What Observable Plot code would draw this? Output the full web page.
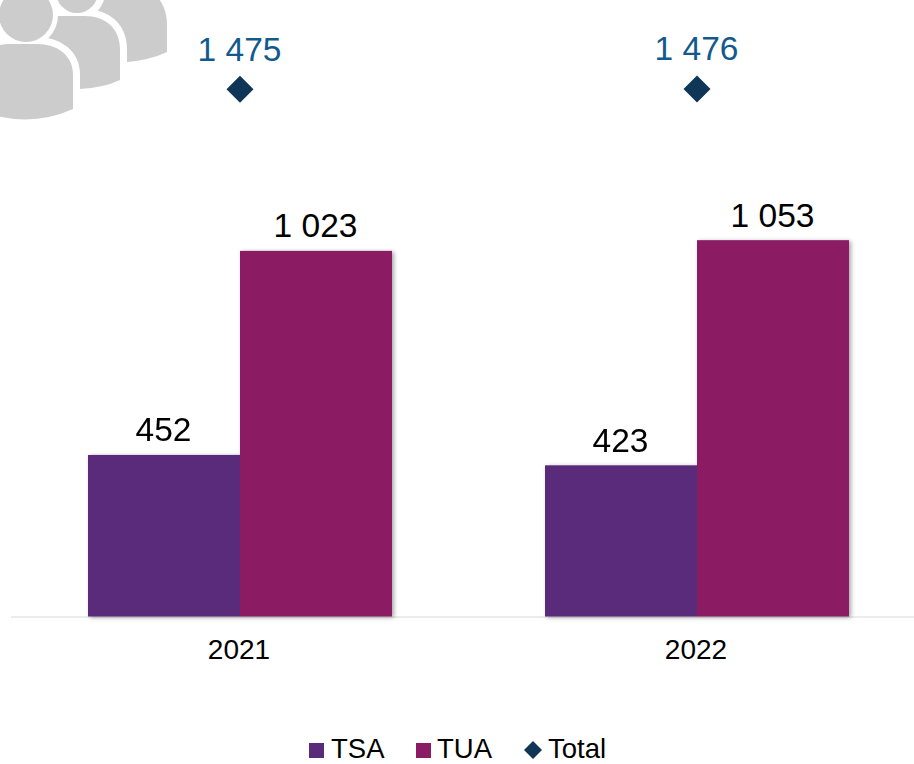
<!DOCTYPE html>
<html>
<head>
<meta charset="utf-8">
<script src="https://cdn.jsdelivr.net/npm/d3@7"></script>
<script src="https://cdn.jsdelivr.net/npm/@observablehq/plot@0.6"></script>
<style>
html,body{margin:0;padding:0;background:#fff;overflow:hidden;width:914px;height:764px}
body{position:relative;font-family:"Liberation Sans",Arial,sans-serif}
#chart svg{display:block;overflow:hidden}
#chart g[aria-label="bar"]{filter:drop-shadow(2px 1.5px 2px rgba(0,0,0,.35))}
#icon{position:absolute;left:0;top:0}
#legend{position:absolute;left:0;top:730px;width:914px;height:34px;font-size:27.5px;color:#000;line-height:23px}
#legend span{position:absolute;white-space:nowrap}
#legend svg{position:absolute}
</style>
</head>
<body>
<div id="chart"></div>
<svg id="icon" width="175" height="125" viewBox="0 0 175 125" role="img" aria-label="People icon">
  <g fill="#cccccc">
    <path d="M167,52 V25 C167,0 150,-15 130,-15 H105 C85,-15 72,0 72,25 V62 H127 Q150,60 167,52 Z"/>
    <g fill="#ffffff" stroke="#ffffff">
      <circle cx="77" cy="-8" r="21" stroke-width="14"/>
      <path d="M120,80 V50 C120,28 105,16 85,16 H55 C35,16 20,28 20,50 V89 H80 Q103,88 120,80 Z" stroke-width="14"/>
    </g>
    <path d="M120,80 V50 C120,28 105,16 85,16 H55 C35,16 20,28 20,50 V89 H80 Q103,88 120,80 Z"/>
    <circle cx="77" cy="-8" r="21" stroke="#ffffff" stroke-width="5" paint-order="stroke"/>
    <g fill="#ffffff" stroke="#ffffff">
      <circle cx="26" cy="15" r="27" stroke-width="10"/>
      <path d="M73,109 V75 C73,55 57,44 37,44 H10 C-10,44 -25,55 -25,75 V109 Q26,130 73,109 Z" stroke-width="14"/>
    </g>
    <path d="M73,109 V75 C73,55 57,44 37,44 H10 C-10,44 -25,55 -25,75 V109 Q26,130 73,109 Z"/>
    <circle cx="26" cy="15" r="27" stroke="#ffffff" stroke-width="4" paint-order="stroke"/>
  </g>
</svg>
<div id="legend"></div>
<script>
const years = ["2021", "2022"];
const seriesNames = ["TSA", "TUA"];
const tsaValues = [452, 423];
const tuaValues = [1023, 1053];
const totalValues = [1475, 1476];
const seriesColors = ["#5a2a7b", "#8b1b62"];
const totalColor = "#0f3557";
const totalTextColor = "#125a8e";

const fmt = d3.formatLocale({decimal: ",", thousands: " ", grouping: [3], currency: ["", ""]}).format(",d");

const bars = years.flatMap((year, i) => [
  {year, series: seriesNames[0], value: tsaValues[i]},
  {year, series: seriesNames[1], value: tuaValues[i]}
]);
const totals = years.map((year, i) => ({year, total: totalValues[i]}));

const plot = Plot.plot({
  width: 914,
  height: 730,
  marginTop: 0,
  marginBottom: 113.5,
  marginLeft: 11,
  marginRight: -11,
  style: {fontFamily: '"Liberation Sans", Arial, sans-serif', background: "#fff"},
  fx: {domain: years, padding: 0, label: null, axis: null},
  x: {domain: seriesNames, paddingInner: 0, paddingOuter: 0.495, axis: null, label: null},
  y: {domain: [0, 1725], axis: null, label: null},
  color: {domain: seriesNames, range: seriesColors},
  marks: [
    Plot.ruleY([0], {stroke: "#d9d9d9", strokeWidth: 1}),
    Plot.barY(bars, {fx: "year", x: "series", y: "value", fill: "series"}),
    Plot.text(bars, {fx: "year", x: "series", y: "value", text: d => fmt(d.value), dy: -14, dx: -1, lineAnchor: "bottom", fontSize: 33.5, fill: "#000"}),
    Plot.dot(totals, {fx: "year", y: "total", symbol: "diamond2", r: 12.16, dy: -0.6, fill: totalColor, stroke: "none"}),
    Plot.text(totals, {fx: "year", y: "total", text: d => fmt(d.total), dy: -29, dx: -0.5, lineAnchor: "bottom", fontSize: 33.5, fill: totalTextColor}),
    Plot.axisFx({anchor: "bottom", tickSize: 0, tickPadding: 22, dx: -1, fontSize: 28, label: null, fill: "#000"})
  ]
});
document.getElementById("chart").appendChild(plot);

// Legend, below the SVG
const legend = d3.select("#legend");
const squares = [308.5, 416];
const labels = [331, 437];
seriesNames.forEach((name, i) => {
  legend.append("svg").attr("width", 15).attr("height", 15)
    .style("left", squares[i] + "px").style("top", "13px")
    .append("rect").attr("width", 15).attr("height", 15).attr("fill", seriesColors[i]);
  legend.append("span").text(name).style("left", labels[i] + "px").style("top", "7px");
});
const dia = legend.append("svg").attr("width", 18).attr("height", 18).style("left", "524px").style("top", "11px");
dia.append("path").attr("d", "M9,0 L18,9 L9,18 L0,9 Z").attr("fill", totalColor);
legend.append("span").text("Total").style("left", "548px").style("top", "7px");
</script>
</body>
</html>
